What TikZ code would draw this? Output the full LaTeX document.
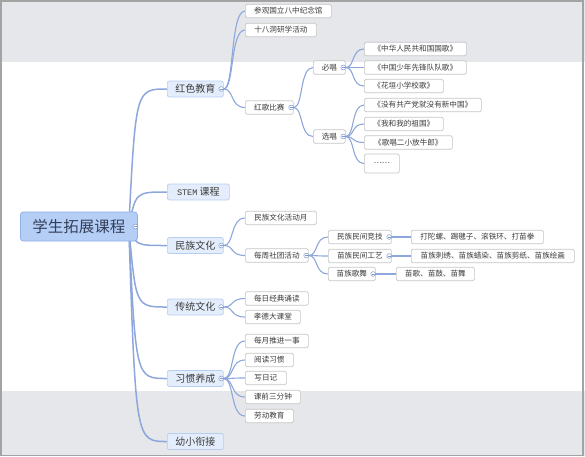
\documentclass[tikz,border=0pt]{standalone}
\usepackage{fontspec}
\newfontfamily\cjk{Noto Sans CJK SC}
\newfontfamily\monof{Liberation Mono}
\usetikzlibrary{calc}
\definecolor{linkc}{HTML}{8DA7DC}
\definecolor{btnc}{HTML}{7E97CC}
\definecolor{band}{HTML}{E6E7EB}
\definecolor{framec}{HTML}{A3A3A3}
\definecolor{txt}{HTML}{3C3C3C}
\definecolor{rootd}{HTML}{8FB0E6}
\definecolor{rootf}{HTML}{B4CEF6}
\definecolor{roott}{HTML}{34405A}
\definecolor{lonedraw}{HTML}{B9CDF0}
\definecolor{lonefill}{HTML}{E4EDFB}
\definecolor{ltwodraw}{HTML}{C6C6C6}
\pgfdeclarelayer{bg}
\pgfdeclarelayer{links}
\pgfsetlayers{bg,links,main}
\tikzset{
  base/.style={anchor=west, inner xsep=1pt, inner ysep=0pt, align=center, text=txt},
  rootn/.style={base, draw=rootd, fill=rootf, rounded corners=3pt, minimum height=29pt, line width=0.8pt, font=\cjk\fontsize{15.5pt}{16pt}\selectfont, text=roott},
  lone/.style={base, draw=lonedraw, fill=lonefill, rounded corners=2pt, minimum height=16pt, line width=0.7pt, font=\cjk\fontsize{10pt}{11pt}\selectfont},
  ltwo/.style={base, draw=ltwodraw, fill=white, rounded corners=1.5pt, minimum height=13.5pt, line width=0.7pt, font=\cjk\fontsize{7.6pt}{8pt}\selectfont},
  rl/.style={to path={let \p1=(\tikztostart),\p2=(\tikztotarget) in .. controls (\x1+7pt,\y2) .. (\tikztotarget)}},
  bl/.style={to path={let \p1=(\tikztostart),\p2=(\tikztotarget) in .. controls ({\x1+0.5*(\x2-\x1)},\y1) and ({\x1+0.3*(\x2-\x1)},\y2) .. (\tikztotarget)}},
  link/.style={draw=linkc, line width=1.1pt},
  rootlink/.style={draw=linkc, line width=1.5pt},
  btn/.style={draw=btnc, fill=white, line width=0.5pt},
}
\newcommand\mkbtn[1]{\draw[btn] ($(#1.east)+(-2.5,0)$) circle (2.4pt); \draw[btnc, line width=0.5pt] ($(#1.east)+(-3.8,0)$) -- ($(#1.east)+(-1.2,0)$);}
\begin{document}
\begin{tikzpicture}[x=1pt,y=-1pt]
\useasboundingbox (0,0) rectangle (585,456);
\begin{pgfonlayer}{bg}
  \fill[band] (0,0) rectangle (585,62);
  \fill[band] (0,391) rectangle (585,456);
  \draw[framec, line width=1.5pt] (0.75,0.75) rectangle (583,455.25);
\end{pgfonlayer}

% root
\node[rootn, minimum width=117pt] (root) at (20,226.5) {学生拓展课程};
\coordinate (rootj) at ($(root.east)+(-9,0)$);

% level 1
\node[lone, minimum width=56pt] (hs) at (167,89) {红色教育};
\node[lone, minimum width=62pt] (stem) at (167,192) {{\monof\fontsize{8.5pt}{9pt}\selectfont STEM} 课程};
\node[lone, minimum width=56pt] (mz) at (167,245.5) {民族文化};
\node[lone, minimum width=56pt] (ct) at (167,307) {传统文化};
\node[lone, minimum width=56pt] (xg) at (167,378.5) {习惯养成};
\node[lone, minimum width=56pt] (yx) at (167,441.5) {幼小衔接};

% red education
\node[ltwo, minimum width=86pt] (cg) at (245,11) {参观国立八中纪念馆};
\node[ltwo, minimum width=71pt] (sb) at (245,30) {十八洞研学活动};
\node[ltwo, minimum width=48pt] (hg) at (245,107.5) {红歌比赛};
\node[ltwo, minimum width=32pt] (bc) at (313,67.5) {必唱};
\node[ltwo, minimum width=32pt] (xc) at (313,136.5) {选唱};
\node[ltwo, minimum width=102pt] (s1) at (364,49) {《中华人民共和国国歌》};
\node[ltwo, minimum width=102pt] (s2) at (364,67.5) {《中国少年先锋队队歌》};
\node[ltwo, minimum width=79pt] (s3) at (364,86) {《花垣小学校歌》};
\node[ltwo, minimum width=117pt] (s4) at (364,105) {《没有共产党就没有新中国》};
\node[ltwo, minimum width=79pt] (s5) at (364,124) {《我和我的祖国》};
\node[ltwo, minimum width=88pt] (s6) at (364,142.5) {《歌唱二小放牛郎》};
\node[ltwo, minimum width=35pt, minimum height=19pt] (s7) at (364,163.5) {……};

% national culture
\node[ltwo, minimum width=71pt] (hd) at (245,218) {民族文化活动月};
\node[ltwo, minimum width=63pt] (st) at (245,255.5) {每周社团活动};
\node[ltwo, minimum width=63pt] (j1) at (328,237) {民族民间竞技};
\node[ltwo, minimum width=63pt] (j2) at (328,256) {苗族民间工艺};
\node[ltwo, minimum width=47pt] (j3) at (328,274) {苗族歌舞};
\node[ltwo, minimum width=132pt] (k1) at (411,237) {打陀螺、踢毽子、滚铁环、打苗拳};
\node[ltwo, minimum width=163pt] (k2) at (411,256) {苗族刺绣、苗族蜡染、苗族剪纸、苗族绘画};
\node[ltwo, minimum width=78pt] (k3) at (396,274) {苗歌、苗鼓、苗舞};

% traditional culture
\node[ltwo, minimum width=63pt] (c1) at (245,298.5) {每日经典诵读};
\node[ltwo, minimum width=55pt] (c2) at (245,317) {孝德大课堂};

% habits
\node[ltwo, minimum width=63pt] (x1) at (245,341) {每月推进一事};
\node[ltwo, minimum width=48pt] (x2) at (245,360) {阅读习惯};
\node[ltwo, minimum width=41pt] (x3) at (245,378) {写日记};
\node[ltwo, minimum width=55pt] (x4) at (245,397) {课前三分钟};
\node[ltwo, minimum width=48pt] (x5) at (245,416) {劳动教育};

\begin{pgfonlayer}{links}
  \foreach \t in {hs,stem,mz,ct,xg,yx} \draw[rootlink] (rootj) to[rl] (\t.west);
  \foreach \t in {cg,sb,hg} \draw[link] (hs.east) to[bl] (\t.west);
  \foreach \t in {bc,xc} \draw[link] (hg.east) to[bl] (\t.west);
  \foreach \t in {s1,s2,s3} \draw[link] (bc.east) to[bl] (\t.west);
  \foreach \t in {s4,s5,s6,s7} \draw[link] (xc.east) to[bl] (\t.west);
  \foreach \t in {hd,st} \draw[link] (mz.east) to[bl] (\t.west);
  \foreach \t in {j1,j2,j3} \draw[link] (st.east) to[bl] (\t.west);
  \draw[link] (j1.east) -- (k1.west);
  \draw[link] (j2.east) -- (k2.west);
  \draw[link] (j3.east) -- (k3.west);
  \foreach \t in {c1,c2} \draw[link] (ct.east) to[bl] (\t.west);
  \foreach \t in {x1,x2,x3,x4,x5} \draw[link] (xg.east) to[bl] (\t.west);
\end{pgfonlayer}

\foreach \b in {root,hs,hg,bc,xc,mz,st,j1,j2,j3,ct,xg} {\mkbtn{\b}}
\end{tikzpicture}
\end{document}
